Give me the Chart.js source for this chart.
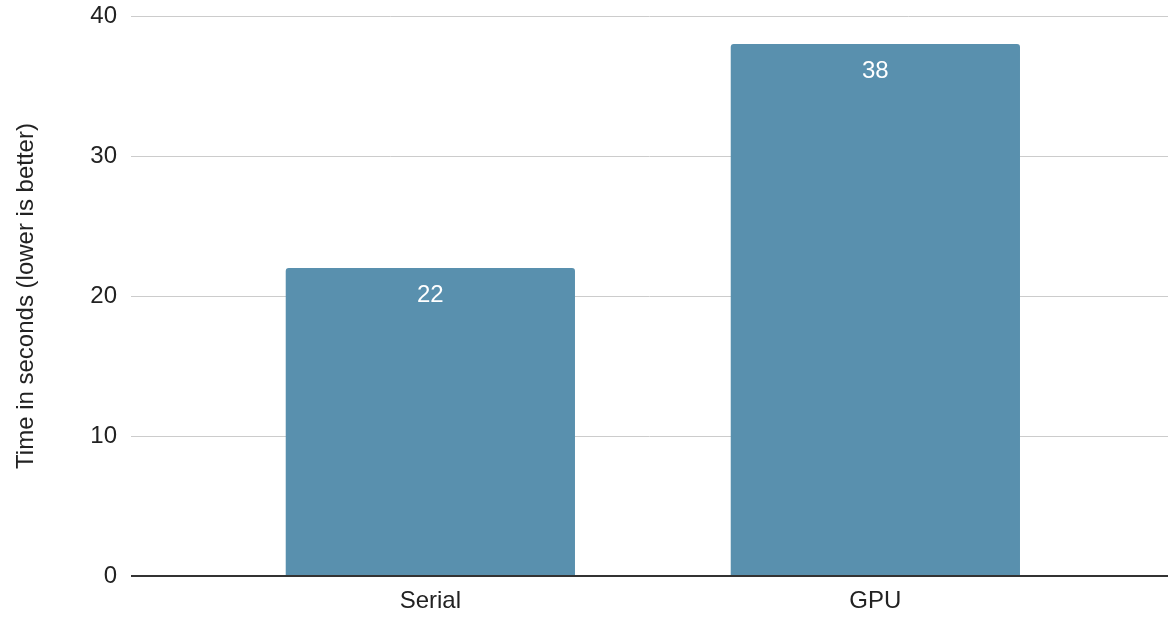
<!DOCTYPE html>
<html>
<head>
<meta charset="utf-8">
<script src="https://cdn.jsdelivr.net/npm/chart.js@4/dist/chart.umd.min.js"></script>
<style>
  html, body { margin: 0; padding: 0; background: #ffffff; }
  #wrap { width: 1168px; height: 617px; }
</style>
</head>
<body>
<div id="wrap"><canvas id="chart" width="1168" height="617"></canvas></div>
<script>
// Run times per implementation
const categories = ['Serial', 'GPU'];
const seconds = [22, 38];
const yTickValues = [0, 10, 20, 30, 40];
const yAxisTitle = 'Time in seconds (lower is better)';

const FONT = "'Liberation Sans', Arial, sans-serif";
const TEXT = '#222222';
const BAR = '#5990ae';

// Horizontal extent of the category axis (in category-index units)
const X_MIN = -0.6727;
const X_MAX = 1.6576;

// Writes each bar's value inside the top of the bar
const barValueLabels = {
  id: 'barValueLabels',
  afterDatasetsDraw(chart) {
    const ctx = chart.ctx;
    const meta = chart.getDatasetMeta(0);
    ctx.save();
    ctx.font = '24px ' + FONT;
    ctx.fillStyle = '#ffffff';
    ctx.textAlign = 'center';
    ctx.textBaseline = 'middle';
    meta.data.forEach((bar, i) => {
      ctx.fillText(String(seconds[i]), bar.x, bar.y + 27);
    });
    ctx.restore();
  }
};

new Chart(document.getElementById('chart'), {
  type: 'bar',
  data: {
    datasets: [{
      data: seconds.map((v, i) => ({ x: i, y: v })),
      backgroundColor: BAR,
      borderWidth: 0,
      borderRadius: 3,
      categoryPercentage: 0.65,
      barPercentage: 1.0
    }]
  },
  options: {
    responsive: false,
    animation: false,
    layout: { padding: { left: 8, right: 0, top: 16, bottom: 2 } },
    plugins: {
      legend: { display: false },
      tooltip: { enabled: false }
    },
    scales: {
      x: {
        type: 'linear',
        min: X_MIN,
        max: X_MAX,
        offset: false,
        bounds: 'data',
        grid: { display: false, drawTicks: false },
        border: { display: false },
        afterBuildTicks(scale) {
          scale.ticks = categories.map((c, i) => ({ value: i }));
          scale.min = X_MIN;
          scale.max = X_MAX;
        },
        afterFit(scale) {
          scale.height = 39;
        },
        ticks: {
          autoSkip: false,
          maxRotation: 0,
          padding: 11,
          color: TEXT,
          font: { family: FONT, size: 24 },
          callback: (v) => categories[v] ?? ''
        }
      },
      y: {
        min: 0,
        max: 40,
        afterBuildTicks(scale) {
          scale.ticks = yTickValues.map(v => ({ value: v }));
        },
        afterFit(scale) {
          scale.width = 123;
          scale.paddingTop = 0;
          scale.paddingBottom = 0;
        },
        border: { display: false },
        grid: {
          drawTicks: false,
          color: (c) => c.tick && c.tick.value === 0 ? '#333333' : '#cccccc',
          lineWidth: (c) => c.tick && c.tick.value === 0 ? 2 : 1
        },
        ticks: {
          padding: 14,
          color: TEXT,
          font: { family: FONT, size: 24 }
        },
        title: {
          display: true,
          text: yAxisTitle,
          color: TEXT,
          font: { family: FONT, size: 24 },
          padding: { top: 4, bottom: 4 }
        }
      }
    }
  },
  plugins: [barValueLabels]
});
</script>
</body>
</html>
